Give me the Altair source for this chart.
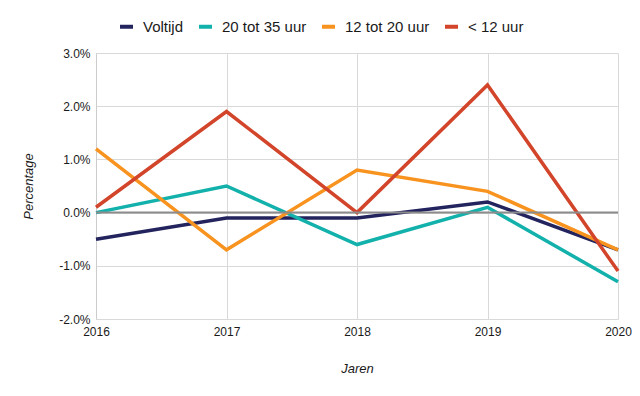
import altair as alt
import pandas as pd

years = [2016, 2017, 2018, 2019, 2020]
series_names = ["Voltijd", "20 tot 35 uur", "12 tot 20 uur", "< 12 uur"]
voltijd = [-0.5, -0.1, -0.1, 0.2, -0.7]
uur_20_35 = [0.0, 0.5, -0.6, 0.1, -1.3]
uur_12_20 = [1.2, -0.7, 0.8, 0.4, -0.7]
uur_lt12 = [0.1, 1.9, 0.0, 2.4, -1.1]
colors = ["#23235e", "#13b1ab", "#f7931e", "#d2452a"]

rows = []
for name, vals in zip(series_names, [voltijd, uur_20_35, uur_12_20, uur_lt12]):
    for y, v in zip(years, vals):
        rows.append({"Jaar": y, "Serie": name, "Waarde": v / 100.0, "ord": series_names.index(name)})
df = pd.DataFrame(rows)

FONT = "Liberation Sans"
W = 522

x_enc = alt.X(
    "Jaar:Q",
    scale=alt.Scale(domain=[2016, 2020], nice=False, zero=False),
    axis=alt.Axis(
        values=years, format="d", title="Jaren", labelFontSize=12, labelColor="#1a1a1a",
        labelPadding=7, ticks=False, domain=False, labelFlush=False,
        grid=True, gridColor="#d9d9d9", gridWidth=1,
        titleFontStyle="italic", titleFontWeight="normal", titleFontSize=13,
        titleColor="#1a1a1a", titleX=W / 2, titleY=49, titleBaseline="middle",
        labelFont=FONT, titleFont=FONT,
    ),
)
y_enc = alt.Y(
    "Waarde:Q",
    scale=alt.Scale(domain=[-0.02, 0.03], nice=False),
    axis=alt.Axis(
        values=[-0.02, -0.01, 0, 0.01, 0.02, 0.03],
        labelExpr="(datum.value < 0 ? '-' : '') + format(abs(datum.value), '.1%')",
        title="Percentage", labelFontSize=12, labelColor="#1a1a1a", labelPadding=6,
        ticks=False, domain=True, domainColor="#cccccc", labelFlush=False,
        grid=True, gridColor="#d9d9d9", gridWidth=1,
        titleFontStyle="italic", titleFontWeight="normal", titleFontSize=13,
        titleColor="#1a1a1a", titleX=-68, titleY=133, titleBaseline="middle",
        titleAlign="center", titleAngle=-90,
        labelFont=FONT, titleFont=FONT,
    ),
)

zero = alt.Chart(pd.DataFrame({"z": [0.0]})).mark_rule(color="#8c8c8c", strokeWidth=2).encode(
    y=alt.Y("z:Q", scale=alt.Scale(domain=[-0.02, 0.03], nice=False))
)

lines = alt.Chart(df).mark_line(strokeWidth=3.5).encode(
    x=x_enc,
    y=y_enc,
    color=alt.Color(
        "Serie:N",
        scale=alt.Scale(domain=series_names, range=colors),
        legend=alt.Legend(
            title=None, orient="none", legendX=22, legendY=-35, direction="horizontal",
            symbolType="stroke", symbolStrokeWidth=4, symbolSize=169,
            labelFontSize=15, labelFont=FONT, labelColor="#1a1a1a",
            labelOffset=8, columnPadding=7,
        ),
    ),
    order=alt.Order("ord:Q"),
    detail="Serie:N",
)

chart = alt.layer(lines, zero).properties(
    width=W, height=266,
    autosize=alt.AutoSizeParams(type="none"),
    padding={"left": 88, "top": 45, "right": 14, "bottom": 60},
).configure_view(stroke=None)

chart.save("out.html", embed_options={"renderer": "svg", "actions": False})
